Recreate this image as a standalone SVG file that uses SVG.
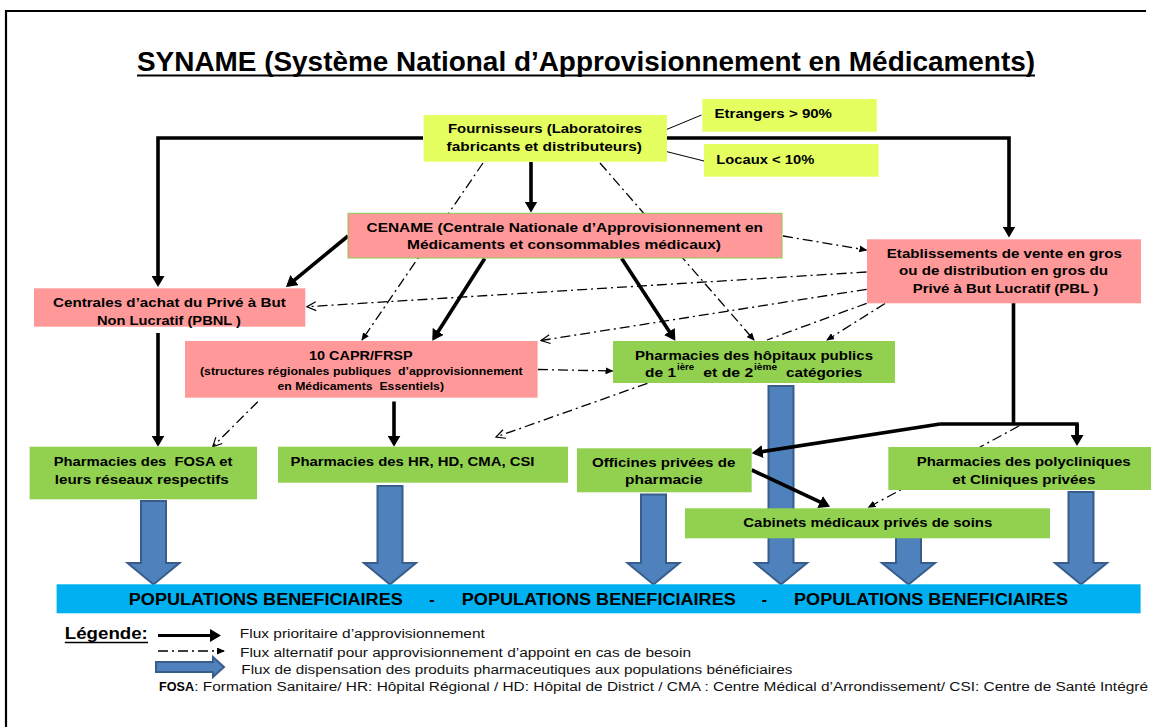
<svg xmlns="http://www.w3.org/2000/svg" width="1151" height="727" viewBox="0 0 1151 727">
<defs>
<style>
.t{font-family:"Liberation Sans",Arial,sans-serif;font-weight:bold;fill:#000;white-space:pre}
.n{font-size:13.5px}
.s{font-size:11px}
.r{font-family:"Liberation Sans",Arial,sans-serif;font-weight:normal;font-size:12.5px;fill:#111}
.yel{fill:#E6FF60}
.pink{fill:#FF9999}
.grn{fill:#92D050}
.thick{stroke:#000;stroke-width:3.6;fill:none}
.dd{stroke:#000;stroke-width:1.3;fill:none;stroke-dasharray:10 4 2 4}
.thin{stroke:#000;stroke-width:1;fill:none}
.flow{fill:#4F81BD;stroke:#385D8A;stroke-width:2}
</style>
<marker id="aT" markerUnits="userSpaceOnUse" viewBox="0 0 11 13" refX="8" refY="6.5" markerWidth="11" markerHeight="13" orient="auto"><path d="M0,0 L11,6.5 L0,13 z" fill="#000"/></marker>
<marker id="aS" markerUnits="userSpaceOnUse" viewBox="0 0 8 7" refX="7" refY="3.5" markerWidth="8" markerHeight="7" orient="auto"><path d="M0,0 L8,3.5 L0,7 z" fill="#000"/></marker>
<marker id="aO" markerUnits="userSpaceOnUse" viewBox="-1 -1 11 11" refX="9" refY="4.5" markerWidth="11" markerHeight="11" orient="auto"><path d="M0,0 L9,4.5 L0,9" fill="none" stroke="#000" stroke-width="1.2"/></marker>
</defs>
<rect width="1151" height="727" fill="#fff"/>
<g id="frame"><path d="M6,727 V11 H1146" fill="none" stroke="#000" stroke-width="2.2"/></g>
<g id="title">
<text class="t" x="137" y="71" font-size="27" textLength="898" lengthAdjust="spacingAndGlyphs">SYNAME (Système National d’Approvisionnement en Médicaments)</text>
<line x1="137" y1="75.5" x2="1035" y2="75.5" stroke="#000" stroke-width="2"/>
</g>
<g id="flows">
<polygon class="flow" points="141,501 166,501 166,563 179.5,563 153.5,584.5 127.5,563 141,563"/>
<polygon class="flow" points="377.5,486 402.5,486 402.5,563 416,563 390,584.5 364,563 377.5,563"/>
<polygon class="flow" points="641,494.5 666,494.5 666,563 679.5,563 653.5,584.5 627.5,563 641,563"/>
<polygon class="flow" points="768.5,386 793.5,386 793.5,563 807,563 781,584.5 755,563 768.5,563"/>
<polygon class="flow" points="896,537 921,537 921,563 935,563 908.5,584.5 882,563 896,563"/>
<polygon class="flow" points="1068.5,492 1093.5,492 1093.5,563 1107,563 1081,584.5 1055,563 1068.5,563"/>
</g>
<g id="connectors">
<line class="thin" x1="667" y1="129.3" x2="701.5" y2="115"/>
<line class="thin" x1="667" y1="151.7" x2="704" y2="161"/>
<path class="thick" d="M423,138 H158 V284" marker-end="url(#aT)"/>
<path class="thick" d="M667,138 H1009 V234.5" marker-end="url(#aT)"/>
<path class="thick" d="M531,162 V209.5" marker-end="url(#aT)"/>
<path class="thick" d="M348,236 L288.3,285.1" marker-end="url(#aT)"/>
<path class="thick" d="M484.7,258.5 L433.9,338.2" marker-end="url(#aT)"/>
<path class="thick" d="M621.7,258.5 L673.7,338.2" marker-end="url(#aT)"/>
<path class="thick" d="M158,333 V443.7" marker-end="url(#aT)"/>
<path class="thick" d="M394,401.5 V443.7" marker-end="url(#aT)"/>
<path class="thick" d="M1013.5,303 V424 M940,424 H1077 V443"/>
<path class="thick" d="M1077,424 V443" marker-end="url(#aT)"/>
<path class="thick" d="M940,424 L754.7,452.8" marker-end="url(#aT)"/>
<path class="thick" d="M751.7,470 L827.3,505.4" marker-end="url(#aT)"/>
<path class="dd" d="M483,163 L362,340" marker-end="url(#aS)"/>
<path class="dd" d="M600,163 L754,340" marker-end="url(#aS)"/>
<path class="dd" d="M783,236 L866.4,250" marker-end="url(#aS)"/>
<path class="dd" d="M866.5,272 L307,306.7" marker-end="url(#aO)"/>
<path class="dd" d="M866.7,289.3 L541,340.5" marker-end="url(#aO)"/>
<path class="dd" d="M866.7,303.3 L767,340"/>
<path class="dd" d="M885,303.5 L827,340" marker-end="url(#aS)"/>
<path class="dd" d="M538,369.5 L612.5,371" marker-end="url(#aS)"/>
<path class="dd" d="M647.4,383.3 L496,437" marker-end="url(#aO)"/>
<path class="dd" d="M257.8,401.7 L212.7,446.7" marker-end="url(#aO)"/>
<path class="dd" d="M1019,426 L868.5,507.3" marker-end="url(#aS)"/>
</g>
<g id="fournisseurs">
<rect class="yel" x="423.6" y="115" width="243.4" height="46.7"/>
<text class="t n" x="448" y="133" textLength="194" lengthAdjust="spacingAndGlyphs">Fournisseurs (Laboratoires</text>
<text class="t n" x="446.5" y="150.5" textLength="195.5" lengthAdjust="spacingAndGlyphs">fabricants et distributeurs)</text>
</g>
<g id="etrangers">
<rect class="yel" x="702.3" y="99" width="174.5" height="32.7"/>
<text class="t n" x="714.5" y="118" textLength="117.5" lengthAdjust="spacingAndGlyphs">Etrangers &gt; 90%</text>
</g>
<g id="locaux">
<rect class="yel" x="704" y="144" width="174.6" height="32.7"/>
<text class="t n" x="716.3" y="164" textLength="98" lengthAdjust="spacingAndGlyphs">Locaux &lt; 10%</text>
</g>
<g id="cename">
<rect class="pink" x="348" y="213.3" width="434" height="44.7" stroke="#8CC850" stroke-width="1"/>
<text class="t n" x="366.5" y="231.5" textLength="396.5" lengthAdjust="spacingAndGlyphs">CENAME (Centrale Nationale d’Approvisionnement en</text>
<text class="t n" x="407" y="249" textLength="314" lengthAdjust="spacingAndGlyphs">Médicaments et consommables médicaux)</text>
</g>
<g id="etablissements">
<rect class="pink" x="867" y="239.3" width="274" height="64"/>
<text class="t n" x="886.8" y="257.5" textLength="235" lengthAdjust="spacingAndGlyphs">Etablissements de vente en gros</text>
<text class="t n" x="899" y="275" textLength="209" lengthAdjust="spacingAndGlyphs">ou de distribution en gros du</text>
<text class="t n" x="912.7" y="292.5" textLength="185.5" lengthAdjust="spacingAndGlyphs">Privé à But Lucratif (PBL )</text>
</g>
<g id="centrales">
<rect class="pink" x="34" y="288.3" width="271.3" height="38.4"/>
<text class="t n" x="53" y="306.5" textLength="232.7" lengthAdjust="spacingAndGlyphs">Centrales d’achat du Privé à But</text>
<text class="t n" x="97" y="325" textLength="144" lengthAdjust="spacingAndGlyphs">Non Lucratif (PBNL )</text>
</g>
<g id="capr">
<rect class="pink" x="185" y="341" width="352.6" height="56.7"/>
<text class="t n" x="309" y="359.5" textLength="103.6" lengthAdjust="spacingAndGlyphs">10 CAPR/FRSP</text>
<text class="t s" x="200" y="374.5" textLength="322.6" lengthAdjust="spacingAndGlyphs">(structures régionales publiques  d’approvisionnement</text>
<text class="t s" x="277.5" y="389.5" textLength="166.5" lengthAdjust="spacingAndGlyphs">en Médicaments  Essentiels)</text>
</g>
<g id="hopitaux">
<rect class="grn" x="613" y="341" width="282" height="42"/>
<text class="t n" x="635" y="359.5" textLength="238" lengthAdjust="spacingAndGlyphs">Pharmacies des hôpitaux publics</text>
<text class="t n" x="645" y="377" textLength="31" lengthAdjust="spacingAndGlyphs">de 1</text>
<text class="t" x="677" y="370" font-size="8.5" textLength="17" lengthAdjust="spacingAndGlyphs">ière</text>
<text class="t n" x="703.3" y="377" textLength="50" lengthAdjust="spacingAndGlyphs">et de 2</text>
<text class="t" x="754" y="370" font-size="8.5" textLength="23" lengthAdjust="spacingAndGlyphs">ième</text>
<text class="t n" x="786" y="377" textLength="76.3" lengthAdjust="spacingAndGlyphs">catégories</text>
</g>
<g id="fosa">
<rect class="grn" x="29.6" y="446.7" width="227.5" height="52.6"/>
<text class="t n" x="53.7" y="466" textLength="178.7" lengthAdjust="spacingAndGlyphs">Pharmacies des  FOSA et</text>
<text class="t n" x="54.8" y="483.5" textLength="174" lengthAdjust="spacingAndGlyphs">leurs réseaux respectifs</text>
</g>
<g id="hr">
<rect class="grn" x="278" y="446.7" width="290" height="36"/>
<text class="t n" x="290.5" y="466" textLength="244" lengthAdjust="spacingAndGlyphs">Pharmacies des HR, HD, CMA, CSI</text>
</g>
<g id="officines">
<rect class="grn" x="577" y="448.3" width="174.7" height="44"/>
<text class="t n" x="592" y="466.7" textLength="143.3" lengthAdjust="spacingAndGlyphs">Officines privées de</text>
<text class="t n" x="625" y="483.5" textLength="77.7" lengthAdjust="spacingAndGlyphs">pharmacie</text>
</g>
<g id="polycliniques">
<rect class="grn" x="888.3" y="447" width="263" height="43"/>
<text class="t n" x="916.7" y="465.5" textLength="214" lengthAdjust="spacingAndGlyphs">Pharmacies des polycliniques</text>
<text class="t n" x="952.3" y="483.5" textLength="143" lengthAdjust="spacingAndGlyphs">et Cliniques privées</text>
</g>
<g id="cabinets">
<rect class="grn" x="685" y="508.3" width="365" height="30"/>
<text class="t n" x="743.3" y="527" textLength="249" lengthAdjust="spacingAndGlyphs">Cabinets médicaux privés de soins</text>
</g>
<g id="populations">
<rect x="56.6" y="584.3" width="1084" height="29" fill="#00B0F0"/>
<text class="t" x="128.8" y="605" font-size="16" textLength="274" lengthAdjust="spacingAndGlyphs">POPULATIONS BENEFICIAIRES</text>
<text class="t" x="432" y="605" font-size="16" text-anchor="middle">-</text>
<text class="t" x="461.8" y="605" font-size="16" textLength="274" lengthAdjust="spacingAndGlyphs">POPULATIONS BENEFICIAIRES</text>
<text class="t" x="764.5" y="605" font-size="16" text-anchor="middle">-</text>
<text class="t" x="794" y="605" font-size="16" textLength="274" lengthAdjust="spacingAndGlyphs">POPULATIONS BENEFICIAIRES</text>
</g>
<g id="legend">
<text class="t" x="64.8" y="639" font-size="16" textLength="83" lengthAdjust="spacingAndGlyphs">Légende:</text>
<line x1="64.8" y1="642.5" x2="148" y2="642.5" stroke="#000" stroke-width="1.5"/>
<path d="M158,635.5 H218" stroke="#000" stroke-width="3" marker-end="url(#aT)"/>
<path class="dd" d="M158,651 H224" stroke-dasharray="12 4 2 4" marker-end="url(#aS)"/>
<polygon class="flow" points="156,662 213,662 213,657 224,667 213,677 213,672 156,672" stroke-width="1.5"/>
<text class="r" x="239.8" y="638" textLength="245" lengthAdjust="spacingAndGlyphs">Flux prioritaire d’approvisionnement</text>
<text class="r" x="240" y="656.5" textLength="451" lengthAdjust="spacingAndGlyphs">Flux alternatif pour approvisionnement d’appoint en cas de besoin</text>
<text class="r" x="241.3" y="674" textLength="551" lengthAdjust="spacingAndGlyphs">Flux de dispensation des produits pharmaceutiques aux populations bénéficiaires</text>
<text class="t" x="159" y="691" font-size="12.5" textLength="35" lengthAdjust="spacingAndGlyphs">FOSA</text>
<text class="r" x="194.3" y="691" textLength="953.7" lengthAdjust="spacingAndGlyphs">: Formation Sanitaire/ HR: Hôpital Régional / HD: Hôpital de District / CMA : Centre Médical d’Arrondissement/ CSI: Centre de Santé Intégré</text>
</g>
</svg>
